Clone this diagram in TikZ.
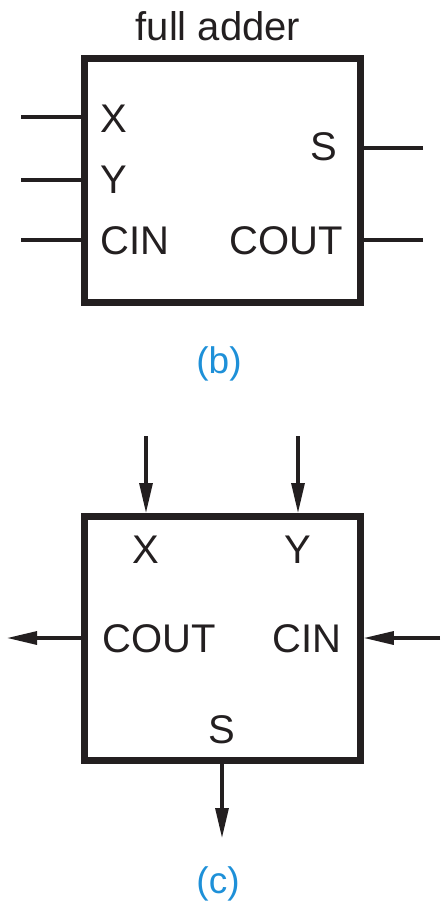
\documentclass[tikz,border=0pt]{standalone}
\usepackage{fontspec}
\setmainfont{Liberation Sans}
\usetikzlibrary{arrows.meta}
\definecolor{ink}{RGB}{35,31,32}
\definecolor{capblue}{RGB}{30,144,216}
\begin{document}
\begin{tikzpicture}[x=1pt,y=-1pt,
  blockbox/.style={draw=ink, line width=6.5pt, minimum width=276pt, minimum height=244pt, inner sep=0pt},
  lbl/.style={inner sep=0pt, text=ink, font=\fontsize{40}{48}\selectfont},
  caption/.style={inner sep=0pt, text=capblue, font=\fontsize{37}{44}\selectfont},
  wire/.style={draw=ink, line width=3.2pt},
  arr/.style={wire, -{Triangle[length=30pt,width=13pt]}}]
\useasboundingbox (0,0) rectangle (444,905);
% (b)
\node[lbl, anchor=base] (title) at (218,40) {full adder};
\node[blockbox] (fa) at (222.5,180.25) {};
\node[lbl, anchor=base west] (bx) at (100,132) {X};
\node[lbl, anchor=base west] (by) at (100,193) {Y};
\node[lbl, anchor=base west] (bcin) at (100,254) {CIN};
\node[lbl, anchor=base east] (bs) at (337,160) {S};
\node[lbl, anchor=base east] (bcout) at (343,254) {COUT};
\coordinate (xl) at (21,117);
\coordinate (yl) at (21,180);
\coordinate (cl) at (21,240);
\coordinate (sr) at (423,148);
\coordinate (cor) at (423,240);
\draw[wire] (xl) -- (xl -| fa.west);
\draw[wire] (yl) -- (yl -| fa.west);
\draw[wire] (cl) -- (cl -| fa.west);
\draw[wire] (sr) -- (sr -| fa.east);
\draw[wire] (cor) -- (cor -| fa.east);
\node[caption, anchor=base] (capb) at (219,373) {(b)};
% (c)
\node[blockbox] (fc) at (222.5,638.25) {};
\node[lbl, anchor=base] (cx) at (146,563) {X};
\node[lbl, anchor=base] (cy) at (298,563) {Y};
\node[lbl, anchor=base west] (ccout) at (102,652) {COUT};
\node[lbl, anchor=base east] (ccin) at (342,652) {CIN};
\node[lbl, anchor=base] (cs) at (222,743) {S};
\coordinate (xt) at (146,436);
\coordinate (yt) at (298,436);
\coordinate (cot) at (7,638);
\coordinate (cit) at (440,638);
\coordinate (st) at (222,838);
\draw[arr] (xt) -- (xt |- fc.north);
\draw[arr] (yt) -- (yt |- fc.north);
\draw[arr] (cot -| fc.west) -- (cot);
\draw[arr] (cit) -- (cit -| fc.east);
\draw[arr] (st |- fc.south) -- (st);
\node[caption, anchor=base] (capc) at (218,893) {(c)};
\end{tikzpicture}
\end{document}
